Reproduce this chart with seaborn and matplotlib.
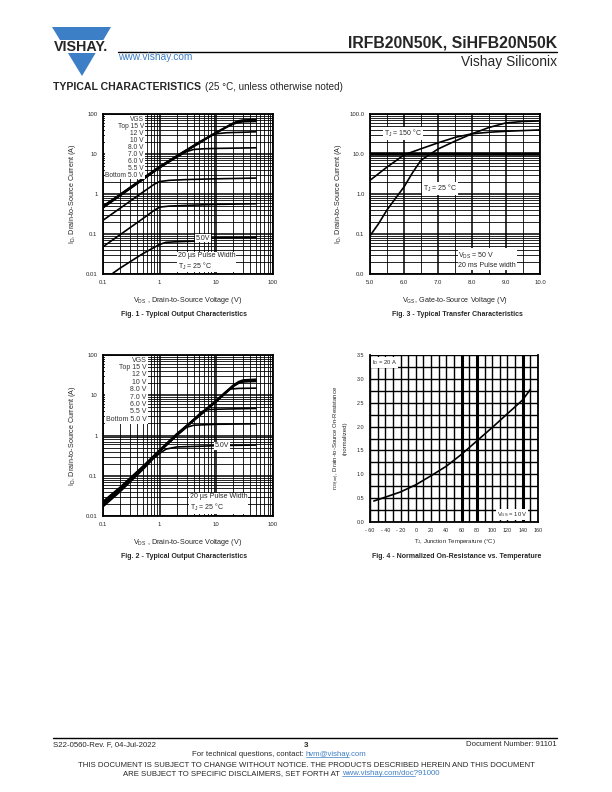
import numpy as np
import pandas as pd
import seaborn as sns
import matplotlib.pyplot as plt
from matplotlib.patches import Polygon, Rectangle
from matplotlib.ticker import FixedLocator, NullFormatter, LogLocator

sns.set_style("white")
plt.rcParams['font.family'] = ['Liberation Sans', 'DejaVu Sans']
plt.rcParams['mathtext.fontset'] = 'custom'
plt.rcParams['mathtext.rm'] = 'Liberation Sans'
plt.rcParams['mathtext.it'] = 'Liberation Sans:italic'

# ---- Fig. 1 - output characteristics, 25 C (VDS in V, ID in A)
vgs_names = ["15 V", "12 V", "10 V", "8.0 V", "7.0 V", "6.0 V", "5.5 V", "5.0 V"]
f1_vds_15 = [0.1, 0.2, 0.5, 1, 2, 5, 10, 15, 20, 25, 30, 50]
f1_id_15 = [0.50, 0.98, 2.45, 4.9, 9.0, 20, 35, 48, 60, 68, 71, 72]
f1_vds_12 = [0.1, 0.2, 0.5, 1, 2, 5, 10, 15, 20, 25, 30, 50]
f1_id_12 = [0.49, 0.96, 2.4, 4.8, 8.9, 19.5, 34, 47, 58, 65, 67, 68]
f1_vds_10 = [0.1, 0.2, 0.5, 1, 2, 5, 10, 15, 20, 25, 30, 50]
f1_id_10 = [0.47, 0.94, 2.35, 4.7, 8.7, 19, 33.5, 46, 56, 62, 64, 65]
f1_vds_8 = [0.1, 0.2, 0.5, 1, 2, 5, 8, 10, 15, 20, 30, 50]
f1_id_8 = [0.46, 0.92, 2.3, 4.6, 8.6, 18.5, 29, 32, 34, 34.5, 35, 36]
f1_vds_7 = [0.1, 0.2, 0.5, 1, 2, 3, 4, 6, 10, 20, 50]
f1_id_7 = [0.45, 0.9, 2.25, 4.5, 8.3, 11.5, 13, 13.5, 13.8, 14, 14.3]
f1_vds_6 = [0.1, 0.2, 0.5, 0.8, 1, 1.5, 3, 10, 50]
f1_id_6 = [0.22, 0.44, 1.1, 1.75, 2.05, 2.2, 2.3, 2.4, 2.5]
f1_vds_55 = [0.1, 0.2, 0.5, 0.8, 1, 1.5, 3, 10, 50]
f1_id_55 = [0.048, 0.096, 0.24, 0.39, 0.47, 0.5, 0.52, 0.55, 0.57]
f1_vds_5 = [0.15, 0.2, 0.5, 1, 1.3, 2, 4, 5, 10, 50]
f1_id_5 = [0.0105, 0.014, 0.032, 0.055, 0.062, 0.064, 0.066, 0.078, 0.08, 0.082]

# ---- Fig. 2 - output characteristics
f2_vds_15 = [0.1, 0.2, 0.5, 1, 2, 5, 10, 20, 25, 30, 50]
f2_id_15 = [0.023, 0.052, 0.17, 0.44, 1.1, 3.3, 7.5, 18, 22, 24, 25]
f2_vds_12 = [0.1, 0.2, 0.5, 1, 2, 5, 10, 20, 25, 30, 50]
f2_id_12 = [0.022, 0.05, 0.165, 0.43, 1.08, 3.2, 7.3, 17.5, 21, 23, 23.5]
f2_vds_10 = [0.1, 0.2, 0.5, 1, 2, 5, 10, 20, 25, 30, 50]
f2_id_10 = [0.021, 0.048, 0.16, 0.42, 1.05, 3.15, 7.1, 17, 20.5, 22, 23]
f2_vds_8 = [0.1, 0.2, 0.5, 1, 2, 5, 10, 20, 25, 30, 50]
f2_id_8 = [0.02, 0.047, 0.158, 0.41, 1.03, 3.1, 7.0, 16.5, 20, 21.5, 22]
f2_vds_7 = [0.1, 0.2, 0.5, 1, 2, 5, 10, 14, 17, 25, 50]
f2_id_7 = [0.019, 0.045, 0.155, 0.41, 1.02, 3.05, 6.9, 11.5, 14.2, 14.8, 15]
f2_vds_6 = [0.1, 0.2, 0.5, 1, 2, 4, 5.5, 7, 10, 50]
f2_id_6 = [0.018, 0.044, 0.15, 0.4, 1.0, 2.5, 3.9, 4.4, 4.5, 4.7]
f2_vds_55 = [0.1, 0.2, 0.5, 1, 2, 3, 4, 10, 50]
f2_id_55 = [0.018, 0.043, 0.148, 0.4, 1.0, 1.6, 1.8, 1.9, 1.95]
f2_vds_5 = [0.1, 0.2, 0.5, 0.8, 1, 1.3, 2, 5, 10, 50]
f2_id_5 = [0.017, 0.04, 0.14, 0.28, 0.36, 0.46, 0.52, 0.54, 0.56, 0.58]

# ---- Fig. 3 - transfer characteristics (VGS in V, ID in A)
f3_vgs_150 = [5.0, 5.5, 6.0, 6.5, 7.0, 7.5, 8.0, 8.5, 9.0, 9.5, 10.0]
f3_id_150 = [2.2, 4.7, 9.5, 13.5, 19, 26, 32, 35, 37, 38.5, 40]
f3_vgs_25 = [5.0, 5.25, 5.5, 5.75, 6.0, 6.25, 6.5, 7.0, 7.5, 8.0, 8.5, 9.0, 9.5, 10.0]
f3_id_25 = [0.09, 0.18, 0.4, 0.78, 1.5, 3.4, 7.0, 13.3, 21, 32, 46, 60, 65, 67]

# ---- Fig. 4 - normalized on-resistance vs. temperature
f4_tj = [-55, -40, -20, 0, 20, 40, 60, 80, 100, 120, 140, 150]
f4_rds = [0.44, 0.52, 0.63, 0.78, 0.97, 1.17, 1.42, 1.7, 1.98, 2.27, 2.56, 2.78]

log_ticks = [0.01, 0.1, 1, 10, 100]
f1_ylabels = ["0.01", "0.1", "1", "10", "100"]
f1_xticks = [0.1, 1, 10, 100]
f1_xlabels = ["0.1", "1", "10", "100"]
f3_xticks = [5, 6, 7, 8, 9, 10]
f3_xlabels = ["5.0", "6.0", "7.0", "8.0", "9.0", "10.0"]
f3_ylabels = ["0.0", "0.1", "1.0", "10.0", "100.0"]
f4_xticks = [-60, -40, -20, 0, 20, 40, 60, 80, 100, 120, 140, 160]
f4_xlabels = ["- 60", "- 40", "- 20", "0", "20", "40", "60", "80", "100", "120", "140", "160"]
f4_yticks = [0, 0.5, 1.0, 1.5, 2.0, 2.5, 3.0, 3.5]
f4_ylabels = ["0.0", "0.5", "1.0", "1.5", "2.0", "2.5", "3.0", "3.5"]
legend_lines = ["VGS", "Top 15 V", "12 V", "10 V", "8.0 V", "7.0 V", "6.0 V", "5.5 V", "Bottom 5.0 V"]


def long_df(pairs, xname, yname):
    rows = []
    for name, xs, ys in pairs:
        for x, y in zip(xs, ys):
            rows.append({xname: x, yname: y, "curve": name})
    return pd.DataFrame(rows)


fig1_df = long_df(zip(vgs_names,
                      [f1_vds_15, f1_vds_12, f1_vds_10, f1_vds_8, f1_vds_7, f1_vds_6, f1_vds_55, f1_vds_5],
                      [f1_id_15, f1_id_12, f1_id_10, f1_id_8, f1_id_7, f1_id_6, f1_id_55, f1_id_5]),
                  "vds", "id")
fig2_df = long_df(zip(vgs_names,
                      [f2_vds_15, f2_vds_12, f2_vds_10, f2_vds_8, f2_vds_7, f2_vds_6, f2_vds_55, f2_vds_5],
                      [f2_id_15, f2_id_12, f2_id_10, f2_id_8, f2_id_7, f2_id_6, f2_id_55, f2_id_5]),
                  "vds", "id")
fig3_df = long_df([("150", f3_vgs_150, f3_id_150), ("25", f3_vgs_25, f3_id_25)], "vgs", "id")
fig4_df = pd.DataFrame({"tj": f4_tj, "rds": f4_rds})

W, H = 612, 792
fig = plt.figure(figsize=(6.12, 7.92), dpi=100)

# page layer in pixel coordinates
page = fig.add_axes([0, 0, 1, 1], zorder=0)
page.set_xlim(0, W)
page.set_ylim(H, 0)
page.axis("off")


def box(l, t, r, b):
    return [l / W, (H - b) / H, (r - l) / W, (b - t) / H]


tick_fs = 4.3
lab_fs = 5.2
cap_fs = 5.0
white = dict(fc="white", ec="none", pad=0.6)


def style_log_axes(ax, xticks, xlabels, ylabels, xlog=True):
    if xlog:
        ax.set_xscale("log")
    ax.set_yscale("log")
    ax.set_yticks(log_ticks)
    ax.set_yticklabels(ylabels)
    ax.yaxis.set_minor_locator(LogLocator(base=10, subs=np.arange(2, 10)))
    ax.yaxis.set_minor_formatter(NullFormatter())
    ax.set_xticks(xticks)
    ax.set_xticklabels(xlabels)
    if xlog:
        ax.xaxis.set_minor_locator(LogLocator(base=10, subs=np.arange(2, 10)))
        ax.xaxis.set_minor_formatter(NullFormatter())
    ax.grid(True, which="major", color="black", lw=1.1)
    ax.grid(True, which="minor", color="black", lw=0.6)
    ax.tick_params(which="both", length=0, labelsize=tick_fs, pad=4)
    for s in ax.spines.values():
        s.set_color("black")
        s.set_linewidth(1.3)
    ax.set_xlabel("")
    ax.set_ylabel("")


# ---------- Fig. 1
ax1 = fig.add_axes(box(103, 114, 273, 274), zorder=2)
sns.lineplot(data=fig1_df, x="vds", y="id", units="curve", estimator=None,
             color="black", lw=1.2, sort=False, ax=ax1)
style_log_axes(ax1, f1_xticks, f1_xlabels, f1_ylabels)
ax1.set_xlim(0.1, 100)
ax1.set_ylim(0.01, 100)
ax1.text(0.24, 0.99, "\n".join(legend_lines),
         transform=ax1.transAxes, ha="right", va="top", multialignment="right",
         fontsize=4.8, linespacing=1.0, color="#333333", bbox=white, zorder=5)
ax1.text(4.3, 0.079, "5.0V", fontsize=5, ha="left", va="center", bbox=white, zorder=5)
ax1.text(2.1, 0.036, "20 \u00b5s Pulse Width\nT$_\\mathrm{J}$ = 25 \u00b0C", fontsize=5,
         ha="left", va="top", linespacing=1.2, bbox=white, zorder=5)

# ---------- Fig. 3
ax3 = fig.add_axes(box(370, 114, 540, 274), zorder=2)
sns.lineplot(data=fig3_df, x="vgs", y="id", units="curve", estimator=None,
             color="black", lw=1.2, sort=False, ax=ax3)
style_log_axes(ax3, f3_xticks, f3_xlabels, f3_ylabels, xlog=False)
ax3.xaxis.set_minor_locator(FixedLocator(np.arange(5.5, 10, 1.0)))
ax3.set_xlim(5, 10)
ax3.set_ylim(0.01, 100)
ax3.axhline(10, color="black", lw=2.6, zorder=1)
ax3.text(5.4, 32, "T$_\\mathrm{J}$ = 150 \u00b0C", fontsize=5, ha="left", va="center", bbox=white, zorder=5)
ax3.text(6.55, 1.35, "T$_\\mathrm{J}$ = 25 \u00b0C", fontsize=5, ha="left", va="center", bbox=white, zorder=5)
ax3.text(7.6, 0.039, "V$_\\mathrm{DS}$ = 50 V\n20 ms Pulse width", fontsize=5,
         ha="left", va="top", linespacing=1.25, bbox=white, zorder=5)

# ---------- Fig. 2
ax2 = fig.add_axes(box(103, 355, 273, 516), zorder=2)
sns.lineplot(data=fig2_df, x="vds", y="id", units="curve", estimator=None,
             color="black", lw=1.2, sort=False, ax=ax2)
style_log_axes(ax2, f1_xticks, f1_xlabels, f1_ylabels)
ax2.set_xlim(0.1, 100)
ax2.set_ylim(0.01, 100)
ax2.text(0.258, 0.99, "\n".join(legend_lines),
         transform=ax2.transAxes, ha="right", va="top", multialignment="right",
         fontsize=5.0, linespacing=1.08, color="#333333", bbox=white, zorder=5)
ax2.text(9.5, 0.55, "5.0V", fontsize=5, ha="left", va="center", bbox=white, zorder=5)
ax2.text(3.4, 0.037, "20 \u00b5s Pulse Width\nT$_\\mathrm{J}$ = 25 \u00b0C", fontsize=5,
         ha="left", va="top", linespacing=1.2, bbox=white, zorder=5)

# ---------- Fig. 4
ax4 = fig.add_axes(box(370, 355, 538, 522), zorder=2)
sns.lineplot(data=fig4_df, x="tj", y="rds", color="black", lw=1.2, ax=ax4)
ax4.set_xlim(-60, 160)
ax4.set_ylim(0, 3.5)
ax4.set_xticks(f4_xticks)
ax4.set_xticklabels(f4_xlabels)
ax4.set_yticks(f4_yticks)
ax4.set_yticklabels(f4_ylabels)
ax4.xaxis.set_minor_locator(FixedLocator(np.arange(-50, 160, 20)))
ax4.yaxis.set_minor_locator(FixedLocator(np.arange(0.25, 3.5, 0.5)))
ax4.grid(True, which="both", color="black", lw=1.0)
for xv in [60, 80, 140]:
    ax4.axvline(xv, color="black", lw=2.2, zorder=1)
ax4.tick_params(which="both", length=0, labelsize=3.9, pad=4)
for s in ax4.spines.values():
    s.set_color("black")
    s.set_linewidth(1.3)
ax4.spines["top"].set_visible(False)
ax4.set_xlabel("")
ax4.set_ylabel("")
ax4.text(-58, 3.44, "I$_\\mathrm{D}$ = 20 A", fontsize=4.2, ha="left", va="top", bbox=white, zorder=5)
ax4.text(106, 0.06, "V$_\\mathrm{GS}$ = 10 V", fontsize=4.2, ha="left", va="bottom", bbox=white, zorder=5)

# ---------- axis labels and captions (page coords)
for cx, cy, t in [(188, 300, "V$_\\mathrm{DS}$ , Drain-to-Source Voltage (V)"),
                  (455, 300, "V$_\\mathrm{GS}$, Gate-to-Source Voltage (V)"),
                  (188, 543, "V$_\\mathrm{DS}$ , Drain-to-Source Voltage (V)")]:
    page.text(cx, cy, t, fontsize=lab_fs, ha="center", va="center")
page.text(455, 541, "T$_\\mathrm{J}$, Junction Temperature (\u00b0C)", fontsize=4.3, ha="center", va="center")
for cx, cy in [(72, 194), (339, 194), (72, 436)]:
    page.text(cx, cy, "I$_\\mathrm{D}$, Drain-to-Source Current (A)", fontsize=lab_fs,
              ha="center", va="center", rotation=90)
page.text(340, 438, "r$_\\mathrm{DS(on)}$, Drain-to-Source On-Resistance\n(normalized)", fontsize=4.3,
          ha="center", va="center", rotation=90, multialignment="center")

for cx, cy, t in [(184, 314, "Fig. 1 - Typical Output Characteristics"),
                  (457, 314, "Fig. 3 - Typical Transfer Characteristics"),
                  (184, 557, "Fig. 2 - Typical Output Characteristics"),
                  (457, 557, "Fig. 4 - Normalized On-Resistance vs. Temperature")]:
    page.text(cx, cy, t, fontsize=cap_fs, fontweight="bold", ha="center", va="center")

# ---------- header
blue = "#3d7fc6"
page.add_patch(Polygon([(52, 27), (111, 27), (82, 76)], closed=True, fc=blue, ec="none"))
page.add_patch(Rectangle((48, 40), 66, 13, fc="white", ec="none"))
page.text(81.5, 47, "VISHAY.", fontsize=10.3, fontweight="bold", ha="center", va="center")
page.text(118, 57.5, "www.vishay.com", fontsize=7.3, color=blue, ha="left", va="center")
page.plot([118, 557], [51.5, 51.5], color="black", lw=1.0)
page.text(557, 47, "IRFB20N50K, SiHFB20N50K", fontsize=11.4, fontweight="bold", ha="right", va="baseline")
page.text(557, 66, "Vishay Siliconix", fontsize=9.9, ha="right", va="baseline")
page.text(53, 90, "TYPICAL CHARACTERISTICS", fontsize=7.6, fontweight="heavy", ha="left", va="baseline")
page.text(205, 90, "(25 \u00b0C, unless otherwise noted)", fontsize=7.1, ha="left", va="baseline")

# ---------- footer
page.plot([53, 557], [737.5, 737.5], color="black", lw=1.0)
page.text(53, 746, "S22-0560-Rev. F, 04-Jul-2022", fontsize=5.6, ha="left", va="baseline")
page.text(306, 747, "3", fontsize=5.8, fontweight="bold", ha="center", va="baseline")
page.text(557, 746, "Document Number: 91101", fontsize=5.6, ha="right", va="baseline")
page.text(306, 756, "For technical questions, contact: ", fontsize=5.6, ha="right", va="baseline")
page.text(306, 756, "hvm@vishay.com", fontsize=5.6, ha="left", va="baseline", color=blue)
page.plot([306, 349], [757.3, 757.3], color=blue, lw=0.5)
page.text(306, 767, "THIS DOCUMENT IS SUBJECT TO CHANGE WITHOUT NOTICE. THE PRODUCTS DESCRIBED HEREIN AND THIS DOCUMENT",
          fontsize=5.6, ha="center", va="baseline")
page.text(342, 775, "ARE SUBJECT TO SPECIFIC DISCLAIMERS, SET FORTH AT ", fontsize=5.6, ha="right", va="baseline")
page.text(342, 775, "www.vishay.com/doc?91000", fontsize=5.6, ha="left", va="baseline", color=blue)
page.plot([342, 415], [776.3, 776.3], color=blue, lw=0.5)

fig.savefig("out.png", dpi=100)
